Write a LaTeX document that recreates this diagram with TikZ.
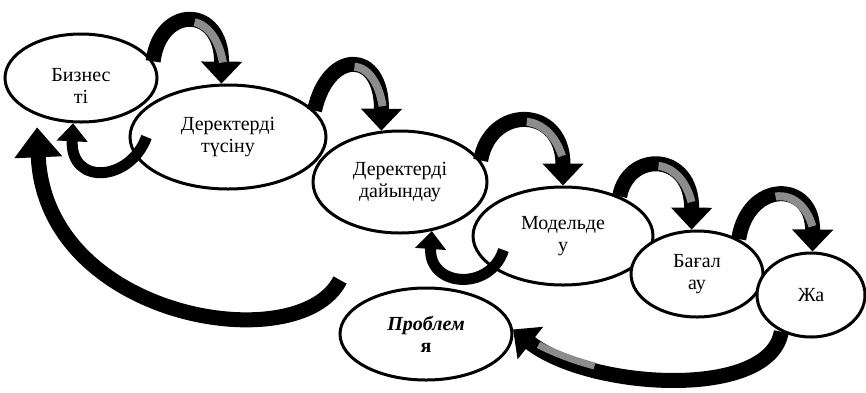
\documentclass[tikz,border=0pt]{standalone}
\usepackage{fontspec}
\setmainfont{Liberation Serif}
\usetikzlibrary{shapes.geometric,arrows.meta}
\begin{document}
\begin{tikzpicture}[x=1pt,y=-1pt,
  stage/.style={ellipse, draw=black, line width=3pt, fill=white, inner sep=0pt, align=center,
                font=\fontsize{20}{22}\selectfont},
  arcarrow/.style={draw=black, line width=15pt, -{Triangle[width=40pt,length=22pt]}},
  loopback/.style={draw=black, line width=11pt, -{Triangle[width=30pt,length=18pt]}},
  bigback/.style={draw=black, line width=15pt, -{Triangle[width=46pt,length=30pt]}},
  hatch/.style={draw=black!45, line width=8pt, dash pattern=on 0pt off #1 on 52pt off 900pt},
]
\useasboundingbox (0,0) rectangle (866,392);

% stages
\node[stage, minimum width=152pt, minimum height=88pt]  (e1) at (81,78)   {\rule{0pt}{28pt}Бизнес\\ті};
\node[stage, minimum width=196pt, minimum height=104pt] (e2) at (228,137) {Деректерді\\түсіну};
\node[stage, minimum width=174pt, minimum height=102pt] (e3) at (400,182) {Деректерді\\дайындау};
\node[stage, minimum width=180pt, minimum height=98pt]  (e4) at (563,236) {Модельде\\у};
\node[stage, minimum width=132pt, minimum height=86pt]  (e5) at (697,274) {Бағал\\ау};
\node[stage, minimum width=108pt, minimum height=84pt]  (e6) at (811,295) {Жа};
\node[stage, minimum width=172pt, minimum height=92pt]  (e7) at (426,334) {\textbf{\textit{Проблем}}\\\textbf{я}};

% forward arcs
\draw[arcarrow] (e1.13) .. controls (160,5) and (222,5) .. (e2.97);
\draw[hatch=62pt, transform canvas={xshift=3pt}] (e1.13) .. controls (160,5) and (222,5) .. (e2.97);

\draw[arcarrow] (e2.17) .. controls (328,49) and (382,49) .. (e3.110);
\draw[hatch=62pt, transform canvas={xshift=3pt}] (e2.17) .. controls (328,49) and (382,49) .. (e3.110);

\draw[arcarrow] (e3.15) .. controls (490,105) and (563,105) .. (e4.90);
\draw[hatch=64pt, transform canvas={xshift=3pt}] (e3.15) .. controls (490,105) and (563,105) .. (e4.90);

\draw[arcarrow] (e4.35) .. controls (628,151) and (692,151) .. (e5.97);
\draw[hatch=52pt, transform canvas={xshift=3pt}] (e4.35) .. controls (628,151) and (692,151) .. (e5.97);

\draw[arcarrow] (e5.40) .. controls (748,180) and (813,180) .. (e6.88);
\draw[hatch=58pt, transform canvas={xshift=3pt}] (e5.40) .. controls (748,180) and (813,180) .. (e6.88);

% small return loops
\draw[loopback] ([xshift=18pt]e2.west) .. controls (130,182) and (70,186) .. (e1.-100);
\draw[loopback] ([xshift=32pt,yshift=-14pt]e4.west) .. controls (490,292) and (428,287) .. (e3.-57);

% large return arrow
\coordinate (tail) at (340,280);
\draw[bigback, shorten >=12pt] (tail) .. controls (300,360) and (45,320) .. (e1.-140);

% from last stage back to problem
\draw[arcarrow] (e6.-129) .. controls (770,400) and (590,390) .. (e7.3);
\draw[draw=black!45, line width=7pt, dash pattern=on 0pt off 205pt on 60pt off 900pt,
      transform canvas={xshift=-2pt,yshift=2pt}] (e6.-129) .. controls (770,400) and (590,390) .. (e7.3);
\end{tikzpicture}
\end{document}
